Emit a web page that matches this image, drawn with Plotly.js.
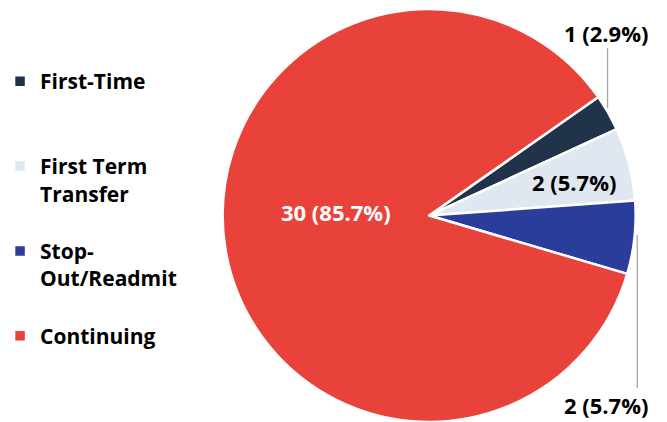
<!DOCTYPE html>
<html>
<head>
<meta charset="utf-8">
<script src="https://cdn.plot.ly/plotly-3.0.1.min.js"></script>
<style>html,body{margin:0;padding:0;background:#fff;}#chart{width:667px;height:422px;}</style>
</head>
<body>
<div id="chart"></div>
<script>
const categories = ["First-Time", "First Term Transfer", "Stop-Out/Readmit", "Continuing"];
const legendNames = ["First-Time<br> <br> ", "First Term<br>Transfer<br> ", "Stop-<br>Out/Readmit<br> ", "Continuing<br> <br> "];
const counts = [1, 2, 2, 30];
const colors = ["#21334A", "#DFE7F1", "#2B3D9B", "#E9423A"];

const total = counts.reduce((a, b) => a + b, 0);
const labelText = counts.map(v => v + " (" + (100 * v / total).toFixed(1) + "%)");

const FONT = "'Open Sans', Lato, sans-serif";
const W = 667, H = 422;

// label anchor positions (pixels) for each slice's data label
const labelPos = [[605, 33], [573, 182], [605, 405], [333, 212]];
const labelColor = ["#000000", "#000000", "#000000", "#FFFFFF"];

const annotations = labelText.map((t, i) => ({
  xref: "paper", yref: "paper",
  x: labelPos[i][0] / W, y: 1 - labelPos[i][1] / H,
  xanchor: "center", yanchor: "middle",
  text: t, showarrow: false,
  font: {family: FONT, size: 22, color: labelColor[i], weight: 700}
}));

const leaders = [
  [[607, 48], [607, 108]],
  [[637, 235], [637, 388]]
];
const shapes = leaders.map(l => ({
  type: "line", xref: "paper", yref: "paper",
  x0: l[0][0] / W, y0: 1 - l[0][1] / H, x1: l[1][0] / W, y1: 1 - l[1][1] / H,
  line: {color: "#A6A6A6", width: 1.3}
}));

const trace = {
  type: "pie",
  labels: legendNames,
  values: counts,
  customdata: categories,
  sort: false,
  direction: "clockwise",
  rotation: 55,
  marker: {colors: colors, line: {color: "#FFFFFF", width: 2.5}},
  textinfo: "none",
  hoverinfo: "label+value+percent",
  domain: {x: [218 / W, 636 / W], y: [0, 1 - 9 / H]}
};

const layout = {
  width: W, height: H,
  margin: {l: 0, r: 0, t: 0, b: 0},
  paper_bgcolor: "#FFFFFF",
  showlegend: true,
  legend: {
    x: -6 / W, y: 1 - 61 / H, xanchor: "left", yanchor: "top",
    valign: "top",
    font: {family: FONT, size: 21, color: "#000000", weight: 700},
    bgcolor: "rgba(0,0,0,0)"
  },
  annotations: annotations,
  shapes: shapes
};

Plotly.newPlot("chart", [trace], layout, {displayModeBar: false, staticPlot: true});
</script>
</body>
</html>
